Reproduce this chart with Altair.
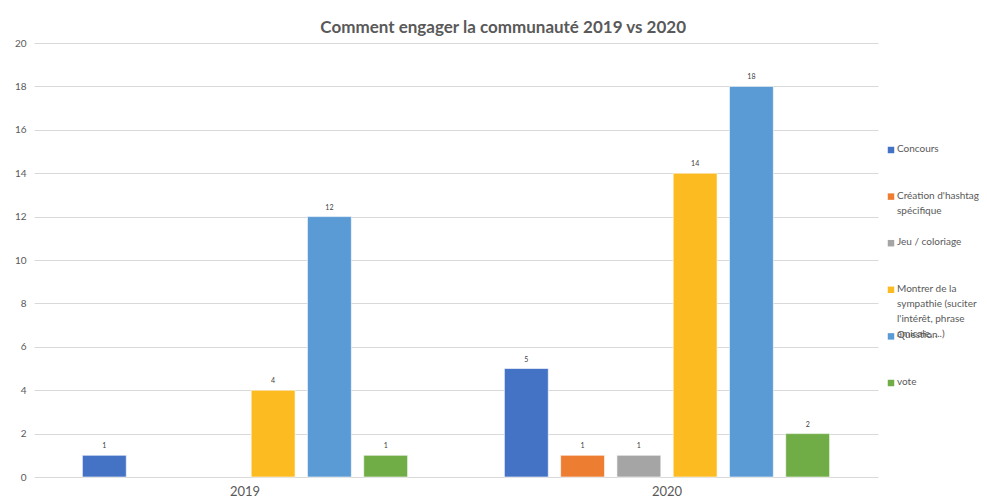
import altair as alt
import pandas as pd

years = ["2019", "2020"]
categories = [
    "Concours",
    "Création d'hashtag spécifique",
    "Jeu / coloriage",
    "Montrer de la sympathie (suciter l'intérêt, phrase amicale, ...)",
    "Question",
    "vote",
]
legend_labels = [
    "Concours",
    "Création d'hashtag\nspécifique",
    "Jeu / coloriage",
    "Montrer de la\nsympathie (suciter\nl'intérêt, phrase\namicale, ...)",
    "Question",
    "vote",
]
colors = ["#4472C4", "#ED7D31", "#A5A5A5", "#FDBB22", "#5B9BD5", "#70AD47"]
values_2019 = [1, None, None, 4, 12, 1]
values_2020 = [5, 1, 1, 14, 18, 2]
y_ticks = [0, 2, 4, 6, 8, 10, 12, 14, 16, 18, 20]

rows = []
for year, vals in zip(years, [values_2019, values_2020]):
    for cat, v in zip(categories, vals):
        if v is not None:
            rows.append({"year": year, "cat": cat, "value": v})
df = pd.DataFrame(rows)

FONT = "Lato"
GREY = "#595959"

base = alt.Chart(df).encode(
    x=alt.X(
        "year:N",
        scale=alt.Scale(domain=years, paddingInner=0.2, paddingOuter=0.1),
        axis=alt.Axis(title=None, labelAngle=0, ticks=False, domain=False,
                      labelFontSize=13, labelColor=GREY, labelPadding=8,
                      grid=False, labelFont=FONT),
    ),
    xOffset=alt.XOffset(
        "cat:N",
        scale=alt.Scale(domain=categories, paddingInner=0.22, paddingOuter=0.11),
    ),
    y=alt.Y(
        "value:Q",
        scale=alt.Scale(domain=[0, 20]),
        axis=alt.Axis(values=y_ticks, title=None, ticks=False, domain=False,
                      labelFontSize=10, labelColor=GREY, labelPadding=8,
                      gridColor="#d9d9d9", labelFont=FONT),
    ),
)

bars = base.mark_bar(stroke="white", strokeWidth=0.6).encode(
    color=alt.Color("cat:N", scale=alt.Scale(domain=categories, range=colors), legend=None)
)
value_labels = base.mark_text(dy=-6, fontSize=7, color="#404040", baseline="bottom", font=FONT).encode(
    text="value:Q"
)
main = alt.layer(bars, value_labels).properties(width=844, height=434)

leg_df = pd.DataFrame({"cat": categories, "label": legend_labels})
leg_base = alt.Chart(leg_df).encode(
    y=alt.Y("cat:N", scale=alt.Scale(type="point", domain=categories, range=[107, 340], padding=0),
            axis=None)
)
sym = leg_base.mark_square(size=42, opacity=1).encode(
    x=alt.value(11),
    color=alt.Color("cat:N", scale=alt.Scale(domain=categories, range=colors), legend=None),
)
txt = leg_base.mark_text(align="left", baseline="top", dy=-6, lineBreak="\n", lineHeight=15,
                         fontSize=10, color=GREY, font=FONT).encode(
    x=alt.value(17), text="label:N"
)
legend = alt.layer(sym, txt).properties(width=100, height=434)

chart = alt.hconcat(main, legend, spacing=2).properties(
    title=alt.TitleParams(
        "Comment engager la communauté 2019 vs 2020",
        fontSize=17, font=FONT, fontWeight="bold", color=GREY,
        anchor="middle", offset=1, dx=6,
    ),
    padding={"left": 14, "top": 19, "right": 0, "bottom": 0},
).configure_view(stroke=None).resolve_scale(color="independent")

chart.save("out.html", embed_options={"renderer": "svg", "actions": False})
